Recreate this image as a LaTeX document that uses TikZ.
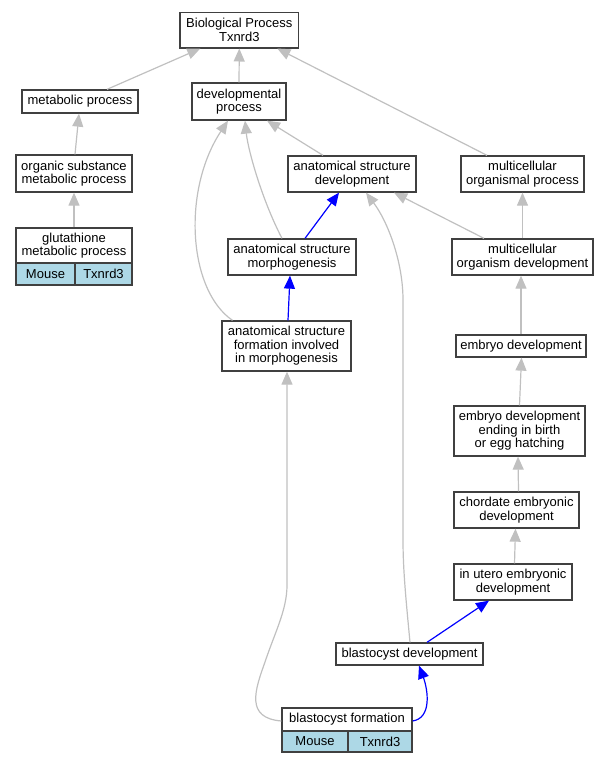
\documentclass[tikz,border=0pt]{standalone}
\usepackage{fontspec}
\setmainfont{Liberation Sans}
\usetikzlibrary{arrows.meta,calc}
\definecolor{edgegrey}{HTML}{C0C0C0}
\definecolor{cellblue}{HTML}{ADD8E6}
\definecolor{boxline}{HTML}{404040}
\begin{document}
\begin{tikzpicture}[x=1pt,y=-1pt,
  box/.style={draw=boxline,line width=1.3pt,fill=white,inner sep=0pt,align=center,
    font=\fontsize{13}{13.5}\selectfont},
  cell/.style={box,fill=cellblue},
  gedge/.style={draw=edgegrey,line width=1.2pt,-{Triangle[length=13pt,width=11pt]}},
  bedge/.style={draw=blue,line width=1.2pt,-{Triangle[length=13pt,width=11pt]}}]
\useasboundingbox (0,0) rectangle (609,763);
% nodes
\node[box,minimum width=118.7pt,minimum height=35.7pt] (bp) at (239.3,30) {Biological Process\\Txnrd3};
\node[box,minimum width=116pt,minimum height=23pt] (metab) at (80,101.5) {metabolic process};
\node[box,minimum width=94pt,minimum height=37pt] (dev) at (239,101.5) {developmental\\process};
\node[box,minimum width=128pt,minimum height=36pt] (asd) at (352,174) {anatomical structure\\development};
\node[box,minimum width=123pt,minimum height=36pt] (mop) at (522.5,174) {multicellular\\organismal process};
\node[box,minimum width=116pt,minimum height=37pt] (osmp) at (74,173.5) {organic substance\\metabolic process};
\node[box,minimum width=116pt,minimum height=35pt] (gluta) at (74,245.5) {glutathione\\metabolic process};
\node[cell,minimum width=59pt,minimum height=22pt] (glutam) at (45.5,274) {Mouse};
\node[cell,minimum width=57pt,minimum height=22pt] (glutat) at (103.5,274) {Txnrd3};
\node[box,minimum width=128pt,minimum height=36pt] (asm) at (292,257) {anatomical structure\\morphogenesis};
\node[box,minimum width=141pt,minimum height=36pt] (mod) at (522.5,257) {multicellular\\organism development};
\node[box,minimum width=129pt,minimum height=50pt] (asf) at (286.5,346) {anatomical structure\\formation involved\\in morphogenesis};
\node[box,minimum width=130pt,minimum height=22pt] (emb) at (521,346) {embryo development};
\node[box,minimum width=131pt,minimum height=50pt] (ebh) at (519.5,431) {embryo development\\ending in birth\\or egg hatching};
\node[box,minimum width=125pt,minimum height=36pt] (chord) at (516.5,510) {chordate embryonic\\development};
\node[box,minimum width=118pt,minimum height=36pt] (utero) at (513,582) {in utero embryonic\\development};
\node[box,minimum width=147pt,minimum height=22pt] (bdev) at (409.5,654) {blastocyst development};
\node[box,minimum width=130pt,minimum height=23pt] (bform) at (347,719.5) {blastocyst formation};
\node[cell,minimum width=66pt,minimum height=21pt] (bformm) at (315,741.5) {Mouse};
\node[cell,minimum width=64pt,minimum height=21pt] (bformt) at (380,741.5) {Txnrd3};
% edges
\draw[gedge] ([xshift=27pt]metab.north) -- ([xshift=-39pt]bp.south);
\draw[gedge] (dev.north) -- (bp.south);
\draw[gedge] ([xshift=-35.5pt]mop.north) -- ([xshift=38pt]bp.south);
\draw[gedge] ([xshift=1pt]osmp.north) -- ([xshift=-1pt]metab.south);
\draw[gedge] (gluta.north) -- (osmp.south);
\draw[gedge] ([xshift=-29pt]asd.north) -- ([xshift=28pt]dev.south);
\draw[gedge] ([xshift=-10pt]asm.north) .. controls (262,200) and (248,150) .. ([xshift=6pt]dev.south);
\draw[gedge] ([xshift=-54pt]asf.north) .. controls (188,290) and (182,190) .. ([xshift=-11pt]dev.south);
\draw[bedge] ([xshift=13pt]asm.north) -- ([xshift=-13pt]asd.south);
\draw[bedge] ([xshift=1.5pt]asf.north) -- ([xshift=-2pt]asm.south);
\draw[gedge] ([xshift=-38.5pt]mod.north) -- ([xshift=42pt]asd.south);
\draw[gedge] (mod.north) -- (mop.south);
\draw[gedge] (emb.north) -- ([xshift=-1.5pt]mod.south);
\draw[gedge] (ebh.north) -- ([xshift=0.5pt]emb.south);
\draw[gedge] ([xshift=2pt]chord.north) -- ([xshift=-1.5pt]ebh.south);
\draw[gedge] ([xshift=1.5pt]utero.north) -- ([xshift=-1pt]chord.south);
\draw[bedge] ([xshift=17.5pt]bdev.north) -- ([xshift=-24pt]utero.south);
\draw[gedge] ([xshift=0.5pt]bdev.north) .. controls (406,600) and (403,570) .. (403,540)
  -- (403,300) .. controls (403,262) and (388,222) .. ([xshift=14pt]asd.south);
\draw[gedge] ([yshift=-1.5pt]bform.west) .. controls (245,718) and (255,690) .. (265,662)
  .. controls (275,632) and (287,610) .. (287,585) -- ([xshift=0.5pt]asf.south);
\draw[bedge] ([yshift=-1.5pt]bform.east) .. controls (432,718) and (428,690) .. ([xshift=9.5pt]bdev.south);
\end{tikzpicture}
\end{document}
